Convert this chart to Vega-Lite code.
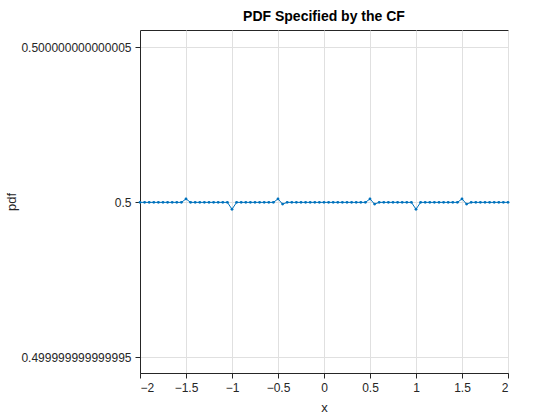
{
  "$schema": "https://vega.github.io/schema/vega-lite/v6.json",
  "autosize": "none",
  "padding": {"left": 140, "top": 30, "right": 52, "bottom": 47},
  "width": 368,
  "height": 343,
  "background": "white",
  "title": {"text": "PDF Specified by the CF", "font": "Arial", "fontSize": 14, "fontWeight": "bold", "color": "#000", "offset": 6},
  "data": {"values": [
    {"x": -2, "pdf": 0.5}, {"x": -1.95, "pdf": 0.5}, {"x": -1.9, "pdf": 0.5}, {"x": -1.85, "pdf": 0.5}, {"x": -1.8, "pdf": 0.5},
    {"x": -1.75, "pdf": 0.5}, {"x": -1.7, "pdf": 0.5}, {"x": -1.65, "pdf": 0.5}, {"x": -1.6, "pdf": 0.5}, {"x": -1.55, "pdf": 0.5},
    {"x": -1.5, "pdf": 0.5000000000000001}, {"x": -1.45, "pdf": 0.5}, {"x": -1.4, "pdf": 0.5}, {"x": -1.35, "pdf": 0.5}, {"x": -1.3, "pdf": 0.5},
    {"x": -1.25, "pdf": 0.5}, {"x": -1.2, "pdf": 0.5}, {"x": -1.15, "pdf": 0.5}, {"x": -1.1, "pdf": 0.5}, {"x": -1.05, "pdf": 0.5},
    {"x": -1, "pdf": 0.4999999999999998}, {"x": -0.95, "pdf": 0.5}, {"x": -0.9, "pdf": 0.5}, {"x": -0.85, "pdf": 0.5}, {"x": -0.8, "pdf": 0.5},
    {"x": -0.75, "pdf": 0.5}, {"x": -0.7, "pdf": 0.5}, {"x": -0.65, "pdf": 0.5}, {"x": -0.6, "pdf": 0.5}, {"x": -0.55, "pdf": 0.5},
    {"x": -0.5, "pdf": 0.5000000000000001}, {"x": -0.45, "pdf": 0.49999999999999994}, {"x": -0.4, "pdf": 0.5}, {"x": -0.35, "pdf": 0.5}, {"x": -0.3, "pdf": 0.5},
    {"x": -0.25, "pdf": 0.5}, {"x": -0.2, "pdf": 0.5}, {"x": -0.15, "pdf": 0.5}, {"x": -0.1, "pdf": 0.5}, {"x": -0.05, "pdf": 0.5},
    {"x": 0, "pdf": 0.5}, {"x": 0.05, "pdf": 0.5}, {"x": 0.1, "pdf": 0.5}, {"x": 0.15, "pdf": 0.5}, {"x": 0.2, "pdf": 0.5},
    {"x": 0.25, "pdf": 0.5}, {"x": 0.3, "pdf": 0.5}, {"x": 0.35, "pdf": 0.5}, {"x": 0.4, "pdf": 0.5}, {"x": 0.45, "pdf": 0.5},
    {"x": 0.5, "pdf": 0.5000000000000001}, {"x": 0.55, "pdf": 0.49999999999999994}, {"x": 0.6, "pdf": 0.5}, {"x": 0.65, "pdf": 0.5}, {"x": 0.7, "pdf": 0.5},
    {"x": 0.75, "pdf": 0.5}, {"x": 0.8, "pdf": 0.5}, {"x": 0.85, "pdf": 0.5}, {"x": 0.9, "pdf": 0.5}, {"x": 0.95, "pdf": 0.5},
    {"x": 1, "pdf": 0.4999999999999998}, {"x": 1.05, "pdf": 0.5}, {"x": 1.1, "pdf": 0.5}, {"x": 1.15, "pdf": 0.5}, {"x": 1.2, "pdf": 0.5},
    {"x": 1.25, "pdf": 0.5}, {"x": 1.3, "pdf": 0.5}, {"x": 1.35, "pdf": 0.5}, {"x": 1.4, "pdf": 0.5}, {"x": 1.45, "pdf": 0.5},
    {"x": 1.5, "pdf": 0.5000000000000001}, {"x": 1.55, "pdf": 0.49999999999999994}, {"x": 1.6, "pdf": 0.5}, {"x": 1.65, "pdf": 0.5}, {"x": 1.7, "pdf": 0.5},
    {"x": 1.75, "pdf": 0.5}, {"x": 1.8, "pdf": 0.5}, {"x": 1.85, "pdf": 0.5}, {"x": 1.9, "pdf": 0.5}, {"x": 1.95, "pdf": 0.5},
    {"x": 2, "pdf": 0.5}
  ]},
  "mark": {"type": "line", "color": "#0072BD", "strokeWidth": 1, "point": {"color": "#0072BD", "size": 8, "filled": true}},
  "encoding": {
    "x": {
      "field": "x", "type": "quantitative",
      "scale": {"domain": [-2, 2], "nice": false},
      "axis": {"values": [-2, -1.5, -1, -0.5, 0, 0.5, 1, 1.5, 2], "format": "~g", "title": "x", "grid": true, "gridColor": "#e0e0e0",
        "tickSize": 5, "tickColor": "#262626", "domainColor": "#262626", "labelFont": "Arial", "labelFontSize": 12, "labelColor": "#262626",
        "titleFont": "Arial", "titleFontSize": 13, "titleFontWeight": "normal", "titleColor": "#262626", "labelPadding": 4, "titlePadding": 8}
    },
    "y": {
      "field": "pdf", "type": "quantitative",
      "scale": {"domain": [0.4999999999999945, 0.5000000000000055], "nice": false, "zero": false},
      "axis": {"values": [0.499999999999995, 0.5, 0.500000000000005], "title": "pdf", "grid": true, "gridColor": "#e0e0e0",
        "labelExpr": "datum.value > 0.5000000000000001 ? '0.500000000000005' : (datum.value < 0.4999999999999999 ? '0.499999999999995' : '0.5')",
        "tickSize": 5, "tickColor": "#262626", "domainColor": "#262626", "labelFont": "Arial", "labelFontSize": 12, "labelColor": "#262626",
        "titleFont": "Arial", "titleFontSize": 13, "titleFontWeight": "normal", "titleColor": "#262626", "labelPadding": 4, "titlePadding": 2}
    }
  },
  "config": {"view": {"stroke": "#262626", "strokeWidth": 1}}
}
